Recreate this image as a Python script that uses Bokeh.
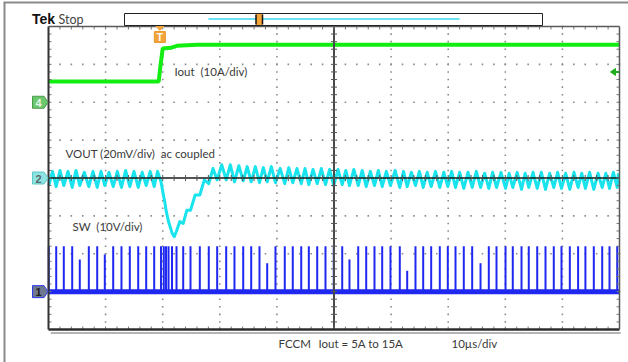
import numpy as np
from bokeh.plotting import figure
from bokeh.models import Range1d, Label
from bokeh.embed import file_html
from bokeh.resources import INLINE

# ---------------- data ----------------
# time base 10 us/div, 10 divisions
record_us = [0.0, 100.0]
trigger_time_us = 19.5
trigger_level_a = 8.0

# channel settings: offset (divisions from centre) and scale (units/div)
iout_offset_div, iout_scale = 2.0, 10.0     # A/div
vout_offset_div, vout_scale = 0.0, 20.0     # mV/div (ac coupled)
sw_offset_div, sw_scale = -3.0, 10.0        # V/div

# Iout (A)
iout_t_us = [0.0, 19.3, 19.6, 20.0, 21.5, 22.5, 26.0, 100.0]
iout_a = [5.5, 5.5, 9.5, 14.2, 14.4, 14.9, 15.2, 15.2]

# SW node pulses: times (us) and amplitude (V)
sw_pulse_t_us = [0.05, 1.35, 2.68, 4.15, 5.48, 7.06, 8.53, 9.86, 11.33, 12.78,
                 14.24, 15.71, 17.11, 18.51, 19.70, 20.19, 20.58, 21.02, 21.63, 22.42,
                 23.59, 24.87, 26.50, 28.07, 29.54, 31.12, 32.57, 34.10, 35.50, 36.95,
                 38.30, 39.75, 41.38, 42.78, 44.26, 45.59, 47.06, 48.51, 49.96, 51.44,
                 52.71, 54.24, 55.64, 57.09, 58.44, 59.89, 61.52, 62.82, 64.27, 65.62,
                 67.02, 68.53, 69.93, 71.28, 72.73, 74.20, 75.66, 77.11, 78.46, 80.04,
                 81.31, 82.84, 84.11, 85.59, 87.04, 88.49, 89.84, 91.30, 92.75, 94.03,
                 95.50, 96.97, 98.25, 99.60]
sw_pulse_v = [12, 12, 12, 12, 8.5, 12, 12, 9.8, 12, 12,
              12, 12, 12, 12, 12, 12, 12, 12, 12, 12,
              12, 12, 12, 12, 12, 12, 12, 12, 12, 12,
              7.5, 12, 12, 12, 12, 12, 12, 12, 12, 12,
              8.5, 12, 12, 12, 12, 12, 12, 5.5, 12, 12,
              12, 12, 12, 12, 12, 12, 7.5, 12, 12, 12,
              12, 12, 12, 12, 12, 12, 12, 12, 12, 12,
              12, 12, 12, 12]

# VOUT ripple (mV): value at each switching edge (valley) and midway (peak)
vout_valley_mv = [-4, -4.5, -4, -5, -4, -4.5, -5, -4, -4.5, -5,
                  -4.5, -5, -4, -4.5, -2, -10, -17, -23, -29, -28,
                  -24, -17, -9, -3, -1, -1, -2, -1.5, -2, -2.5,
                  -2, -2.5, -3, -2.5, -3, -3.5, -3, -3.5, -4, -3.5,
                  -4, -4, -4.5, -4, -4.5, -4, -5, -4.5, -4, -5,
                  -4.5, -5, -4.5, -5, -5.5, -5, -5, -5.5, -5, -5.5,
                  -5, -6, -5, -5.5, -6, -5, -5.5, -6, -5, -5.5,
                  -6, -5, -5.5, -5]
vout_peak_mv = [3.5, 4, 3.5, 4, 3, 3.5, 3.5, 3, 3.5, 4,
                3.5, 3, 3.5, 3.5, -6, -13, -20, -26, -31, -23,
                -17, -9, -1, 5, 7, 7, 6.5, 6, 6, 5.5,
                6, 5, 5.5, 5, 5, 4.5, 5, 4.5, 4.5, 4,
                4.5, 4, 3.5, 4, 3.5, 4, 3.5, 3, 3.5, 3,
                3.5, 3, 3.5, 3, 3, 3.5, 2.5, 3, 3, 2.5,
                3, 2.5, 3, 3, 2.5, 3, 2.5, 3, 2.5, 3,
                2.5, 2.5, 3, 2.5]

# ---------------- layout helpers ----------------
W, H = 628, 362
PX_US = 5.71        # pixels per microsecond
PX_DIV = 37.875     # pixels per vertical division
X0, YC = 48.0, 177.5  # page pixel of t=0 and of the centre line
PAGE = 0.0


def sx(px):  # page pixel x -> time (us)
    return (px - X0) / PX_US


def sy(py):  # page pixel y -> divisions
    return (YC - py) / PX_DIV


x_lo, x_hi = sx(PAGE), sx(PAGE + W)
y_hi, y_lo = sy(PAGE), sy(PAGE + H)

p = figure(width=W, height=H, x_range=Range1d(x_lo, x_hi), y_range=Range1d(y_lo, y_hi),
           output_backend="svg", toolbar_location=None, min_border=0,
           x_axis_location=None, y_axis_location=None, background_fill_color="white",
           border_fill_color="white", outline_line_color=None)
p.grid.visible = False

p.extra_y_ranges = {
    "iout": Range1d((y_lo - iout_offset_div) * iout_scale, (y_hi - iout_offset_div) * iout_scale),
    "vout": Range1d((y_lo - vout_offset_div) * vout_scale, (y_hi - vout_offset_div) * vout_scale),
    "sw": Range1d((y_lo - sw_offset_div) * sw_scale, (y_hi - sw_offset_div) * sw_scale),
}

T0, T1 = record_us
DIV_US = (T1 - T0) / 10.0
GRID = "#8c8c8c"

# outer screenshot border
p.segment(x0=[sx(4), sx(3)], y0=[sy(363), sy(2)], x1=[sx(4), sx(629)], y1=[sy(2), sy(2)],
          line_color="#8a8a8a", line_width=2)

# dotted graticule
dots_x, dots_y = [], []
for d in (-3, -2, -1, 1, 2, 3):
    for k in range(0, 51):
        dots_x.append(T0 + k * DIV_US / 5)
        dots_y.append(d)
for j in (1, 2, 3, 4, 6, 7, 8, 9):
    for k in range(-20, 21):
        dots_x.append(T0 + j * DIV_US)
        dots_y.append(k / 5)
p.scatter(dots_x, dots_y, marker="square", size=1.6, color=GRID, line_color=None)

# ---------------- traces ----------------
# SW
p.line([T0, T1], [0, 0], y_range_name="sw", line_color="#1e28f0", line_width=5)
p.segment(x0=sw_pulse_t_us, y0=[0] * len(sw_pulse_t_us), x1=sw_pulse_t_us, y1=sw_pulse_v,
          y_range_name="sw", line_color="#1e28f0", line_width=2)

# VOUT
vt, vv = [], []
n = len(sw_pulse_t_us)
for i in range(n):
    t = sw_pulse_t_us[i]
    vt.append(t)
    vv.append(vout_valley_mv[i])
    tn = sw_pulse_t_us[i + 1] if i + 1 < n else min(T1, t + 0.8)
    vt.append(min(T1, (t + tn) / 2))
    vv.append(vout_peak_mv[i])
p.line(vt, vv, y_range_name="vout", line_color="#19e3ec", line_width=3, line_join="round")

# Iout
p.line(iout_t_us, iout_a, y_range_name="iout", line_color="#12ee12", line_width=4)

# ---------------- graticule frame, centre lines, ticks ----------------
tick_h = 3 / PX_DIV
tick_w = 3 / PX_US
cx = (T0 + T1) / 2
xs_minor = [T0 + k * DIV_US / 5 for k in range(1, 50)]
ys_minor = [k / 5 for k in range(-19, 20)]

# centre lines
p.segment(x0=[T0], y0=[0], x1=[T1], y1=[0], line_color="#1a1a1a", line_width=1.5)
p.segment(x0=[cx], y0=[-4], x1=[cx], y1=[4], line_color="#4a4a4a", line_width=2)
p.segment(x0=xs_minor, y0=[-tick_h] * len(xs_minor), x1=xs_minor, y1=[tick_h] * len(xs_minor),
          line_color="#555555", line_width=1)
p.segment(x0=[cx - tick_w] * len(ys_minor), y0=ys_minor, x1=[cx + tick_w] * len(ys_minor), y1=ys_minor,
          line_color="#555555", line_width=1)
# edge ticks
p.segment(x0=xs_minor, y0=[4] * len(xs_minor), x1=xs_minor, y1=[4 - tick_h] * len(xs_minor),
          line_color="#777777", line_width=1)
p.segment(x0=xs_minor, y0=[-4] * len(xs_minor), x1=xs_minor, y1=[-4 + tick_h] * len(xs_minor),
          line_color="#777777", line_width=1)
p.segment(x0=[T0] * len(ys_minor), y0=ys_minor, x1=[T0 + tick_w] * len(ys_minor), y1=ys_minor,
          line_color="#777777", line_width=1)
p.segment(x0=[T1] * len(ys_minor), y0=ys_minor, x1=[T1 - tick_w] * len(ys_minor), y1=ys_minor,
          line_color="#777777", line_width=1)
# frame
p.segment(x0=[T0 + 0.4], y0=[sy(332.5)], x1=[T1 + 0.2], y1=[sy(332.5)], line_color="#b4b4b4", line_width=2)
p.segment(x0=[T0, T0, T0, T1], y0=[-4, 4, -4, -4], x1=[T1, T1, T0, T1], y1=[-4, 4, 4, 4],
          line_color=["#2e2e2e", "#5a5a5a", "#333333", "#5a5a5a"], line_width=[2.5, 1.5, 2, 1.5])

# ---------------- channel markers ----------------
def chan_marker(off_div, fill, line, txt, txt_color):
    yc = YC - off_div * PX_DIV
    xs = [sx(32), sx(43.5), sx(47.5), sx(43.5), sx(32)]
    ys = [sy(yc - 6), sy(yc - 6), sy(yc), sy(yc + 6), sy(yc + 6)]
    p.patch(xs, ys, fill_color=fill, line_color=line, line_width=1)
    p.add_layout(Label(x=sx(38), y=sy(yc + 0.5), text=txt, text_font="Liberation Sans",
                       text_font_size="11px", text_font_style="bold", text_color=txt_color,
                       text_align="center", text_baseline="middle"))


chan_marker(iout_offset_div, "#6cc86c", "#4a9a4a", "4", "#e6f4e6")
chan_marker(vout_offset_div, "#8fe3e3", "#5cc8c8", "2", "#5a6a6a")
chan_marker(sw_offset_div, "#707890", "#2a3af0", "1", "#202020")

# trigger position marker
tx = X0 + trigger_time_us * PX_US
p.patch([sx(tx - 4), sx(tx + 4), sx(tx)], [sy(25.5), sy(25.5), sy(30)],
        fill_color="#f2a33a", line_color="#f2a33a")
p.quad(left=[sx(tx - 5.5)], right=[sx(tx + 5.5)], top=[sy(31)], bottom=[sy(42)],
       fill_color="#f2a33a", line_color="#e89a30")
p.add_layout(Label(x=sx(tx), y=sy(36.8), text="T", text_font="Liberation Sans",
                   text_font_size="10px", text_font_style="bold", text_color="white",
                   text_align="center", text_baseline="middle"))

# trigger level marker (right edge)
ly = YC - (iout_offset_div + trigger_level_a / iout_scale) * PX_DIV
p.patch([sx(610), sx(615), sx(615)], [sy(ly), sy(ly - 3.5), sy(ly + 3.5)],
        fill_color="#1fae1f", line_color="#1fae1f")
p.segment(x0=[sx(614)], y0=[sy(ly)], x1=[sx(618.5)], y1=[sy(ly)], line_color="#1fae1f", line_width=2)

# record view bar
p.quad(left=[sx(124)], right=[sx(542)], top=[sy(13)], bottom=[sy(25)],
       fill_color="white", line_color="#222222", line_width=1)
p.segment(x0=[sx(208)], y0=[sy(18.5)], x1=[sx(459)], y1=[sy(18.5)], line_color="#3ad8f0", line_width=1.5)
p.quad(left=[sx(255.5)], right=[sx(262)], top=[sy(13.5)], bottom=[sy(24.5)],
       fill_color="#f2a33a", line_color=None)
p.segment(x0=[sx(255.5), sx(262)], y0=[sy(14), sy(14)], x1=[sx(255.5), sx(262)], y1=[sy(24), sy(24)],
          line_color="#111111", line_width=1.5)

# ---------------- texts ----------------
FONT = "Lato"
TXT = "#3a3a3a"
SP = "\u00a0"


def label(px, py, text, size="11.5px", color=TXT, font=FONT, style="normal"):
    p.add_layout(Label(x=sx(px), y=sy(py), text=text, text_font=font, text_font_size=size,
                       text_color=color, text_font_style=style, text_baseline="middle"))


label(31.5, 18.5, "Tek", size="14px", color="#111111", font="Liberation Sans", style="bold")
label(58, 18.5, "Stop", size="12.5px", color="#444444")
label(174, 70.5, "Iout" + SP + " (10A/div)")
label(65, 152.5, "VOUT (20mV/div)" + SP + " ac coupled")
label(72, 226, "SW" + SP + " (10V/div)")
label(278, 343, "FCCM")
label(318, 343, "Iout = 5A to 15A")
label(451, 343, "10\u00b5s/div")

open("out.html", "w").write(file_html(p, INLINE))
